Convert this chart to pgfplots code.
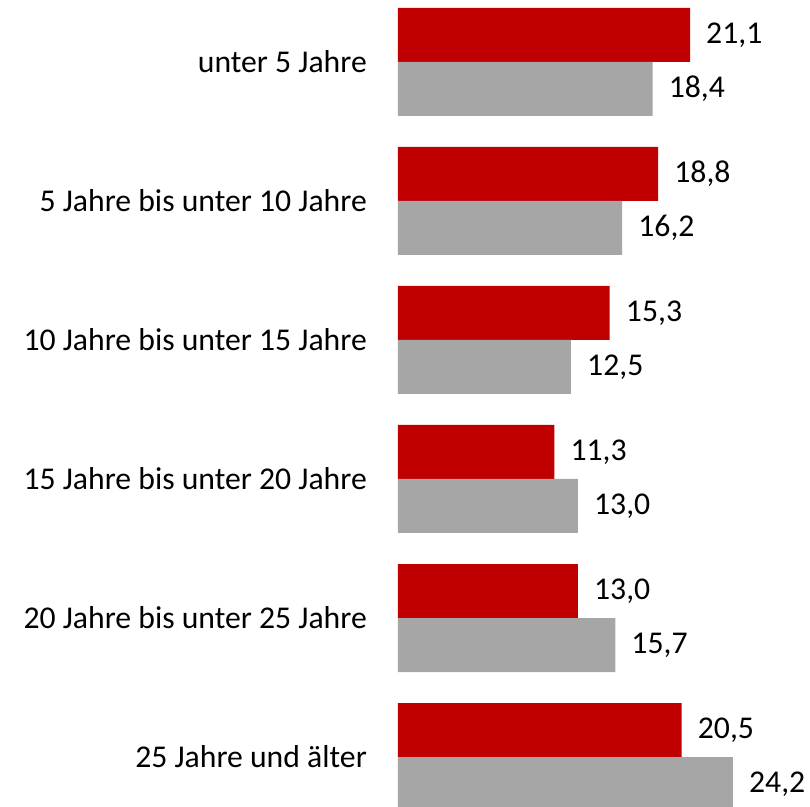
\documentclass[border=0pt]{standalone}
\usepackage{fontspec}
\setmainfont{Carlito}
\usepackage{pgfplots}
\pgfplotsset{compat=1.18}
\definecolor{barred}{HTML}{C00000}
\definecolor{bargray}{HTML}{A6A6A6}

\begin{document}
\begin{tikzpicture}
\begin{axis}[
  name=ax,
  scale only axis,
  width=412pt, height=806pt,
  xmin=0, xmax=29.77,
  ymin=-0.3525, ymax=5.446,
  xbar, bar width=54pt,
  axis line style={draw=none},
  xtick=\empty,
  ytick={0,1,2,3,4,5},
  yticklabels={25 Jahre und älter, 20 Jahre bis unter 25 Jahre, 15 Jahre bis unter 20 Jahre, 10 Jahre bis unter 15 Jahre, 5 Jahre bis unter 10 Jahre, unter 5 Jahre},
  major tick length=0pt,
  ytick style={draw=none},
  yticklabel style={font=\fontsize{31.7}{38}\selectfont, anchor=east, inner sep=0pt, xshift=-31pt},
  nodes near coords,
  nodes near coords style={font=\fontsize{31.7}{38}\selectfont, anchor=west, inner sep=0pt, xshift=16pt, black},
  /pgf/number format/.cd, use comma, fixed, fixed zerofill, precision=1, assume math mode=true,
]
\addplot[fill=barred, draw=none, bar shift=27pt] coordinates {
  (21.1,5) (18.8,4) (15.3,3) (11.3,2) (13.0,1) (20.5,0)
};
\addplot[fill=bargray, draw=none, bar shift=-27pt] coordinates {
  (18.4,5) (16.2,4) (12.5,3) (13.0,2) (15.7,1) (24.2,0)
};
\end{axis}
\pgfresetboundingbox
\path[use as bounding box] ([xshift=-398pt]ax.south west) rectangle (ax.north east);
\end{tikzpicture}
\end{document}
